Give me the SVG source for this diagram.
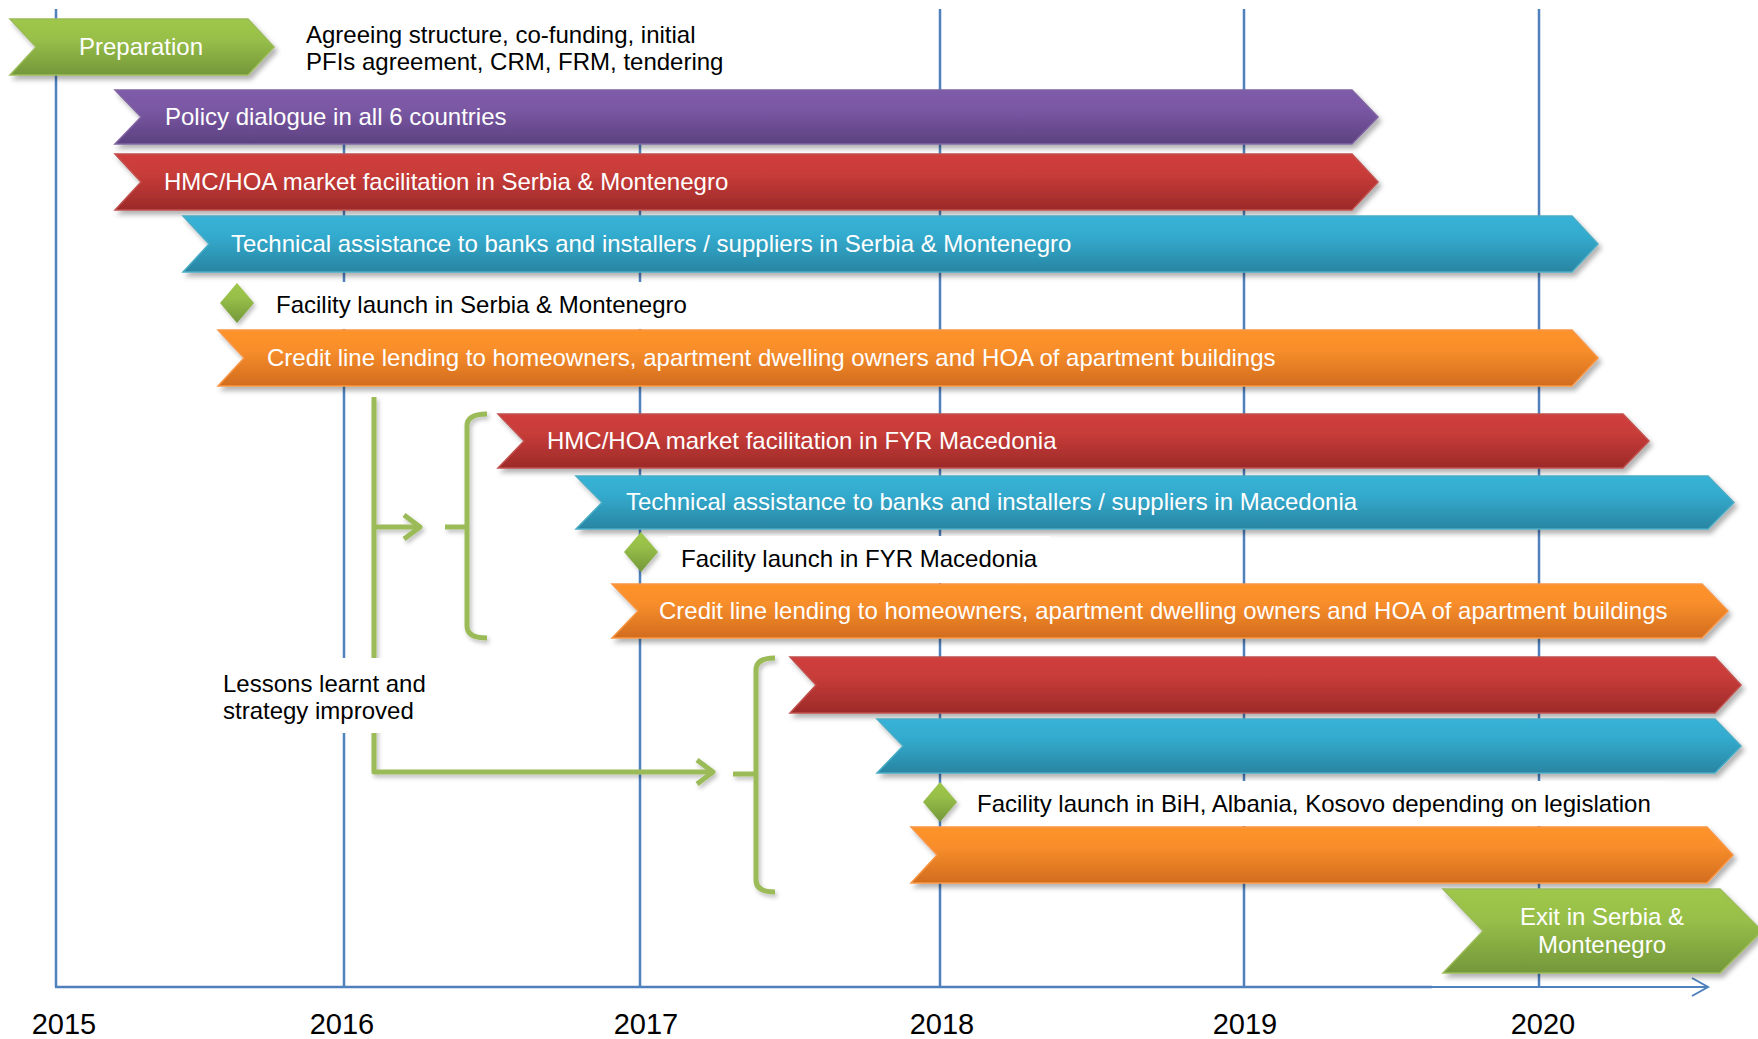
<svg xmlns="http://www.w3.org/2000/svg" width="1758" height="1039" viewBox="0 0 1758 1039">
<style>
  .grid { stroke: #4F81BD; stroke-width: 2.5; fill: none; }
  .wt { font-family: "Liberation Sans", Arial, sans-serif; font-size: 24px; fill: #ffffff; }
  .bt { font-family: "Liberation Sans", Arial, sans-serif; font-size: 24px; fill: #000000; }
  .yr { font-family: "Liberation Sans", Arial, sans-serif; font-size: 29px; fill: #000000; text-anchor: middle; }
  .gl { stroke: #9BBB59; stroke-width: 5; fill: none; stroke-linecap: butt; stroke-linejoin: round; }
  .bg { fill: #ffffff; }
  .purple { fill: url(#gPurple); stroke: #8064A2; stroke-width: 1.5; filter: url(#sh); }
  .red { fill: url(#gRed); stroke: #C0504D; stroke-width: 1.5; filter: url(#sh); }
  .blue { fill: url(#gBlue); stroke: #4BACC6; stroke-width: 1.5; filter: url(#sh); }
  .orange { fill: url(#gOrange); stroke: #F79646; stroke-width: 1.5; filter: url(#sh); }
  .green { fill: url(#gGreen); stroke: #9BBB59; stroke-width: 1.5; filter: url(#sh); }
</style>
<defs>
  <linearGradient id="gPurple" x1="0" y1="0" x2="0" y2="1"><stop offset="0" stop-color="#7F5BAA"/><stop offset="0.35" stop-color="#7A58A4"/><stop offset="1" stop-color="#5C4180"/></linearGradient>
  <linearGradient id="gRed" x1="0" y1="0" x2="0" y2="1"><stop offset="0" stop-color="#D03F3C"/><stop offset="0.35" stop-color="#C83C39"/><stop offset="1" stop-color="#9C2A28"/></linearGradient>
  <linearGradient id="gBlue" x1="0" y1="0" x2="0" y2="1"><stop offset="0" stop-color="#37B3D7"/><stop offset="0.35" stop-color="#33ABCE"/><stop offset="1" stop-color="#2985A2"/></linearGradient>
  <linearGradient id="gOrange" x1="0" y1="0" x2="0" y2="1"><stop offset="0" stop-color="#FF932C"/><stop offset="0.35" stop-color="#F88E2B"/><stop offset="1" stop-color="#D26C1E"/></linearGradient>
  <linearGradient id="gGreen" x1="0" y1="0" x2="0" y2="1"><stop offset="0" stop-color="#9EC74B"/><stop offset="0.35" stop-color="#98C049"/><stop offset="1" stop-color="#74973A"/></linearGradient>
  <filter id="sh" x="-5%" y="-20%" width="110%" height="150%"><feDropShadow dx="3" dy="4" stdDeviation="2.5" flood-color="#000" flood-opacity="0.3"/></filter>
  <filter id="shs" x="-20%" y="-20%" width="140%" height="140%"><feDropShadow dx="2" dy="3" stdDeviation="2" flood-color="#000" flood-opacity="0.25"/></filter>
</defs>
<rect x="0" y="0" width="1758" height="1039" fill="#ffffff"/>

<g id="axis">
  <line class="grid" x1="56" y1="9" x2="56" y2="987"/>
  <line class="grid" x1="344" y1="144" x2="344" y2="987"/>
  <line class="grid" x1="640" y1="144" x2="640" y2="987"/>
  <line class="grid" x1="940" y1="9" x2="940" y2="987"/>
  <line class="grid" x1="1244" y1="9" x2="1244" y2="987"/>
  <line class="grid" x1="1539" y1="9" x2="1539" y2="987"/>
  <line class="grid" x1="55" y1="987" x2="1432" y2="987"/>
  <line x1="1432" y1="987" x2="1708" y2="987" stroke="#4F81BD" stroke-width="2"/>
  <path d="M1692 978 L1708 987 L1692 996" stroke="#4F81BD" stroke-width="2" fill="none"/>
  <text class="yr" x="64" y="1034">2015</text>
  <text class="yr" x="342" y="1034">2016</text>
  <text class="yr" x="646" y="1034">2017</text>
  <text class="yr" x="942" y="1034">2018</text>
  <text class="yr" x="1245" y="1034">2019</text>
  <text class="yr" x="1543" y="1034">2020</text>
</g>

<g id="preparation">
  <path class="green" d="M10 19 L248 19 L274 47 L248 75 L10 75 L36 47 Z"/>
  <text class="wt" x="141" y="54.5" text-anchor="middle">Preparation</text>
</g>
<g id="preparation-note">
  <text class="bt" x="306" y="43">Agreeing structure, co-funding, initial</text>
  <text class="bt" x="306" y="70">PFIs agreement, CRM, FRM, tendering</text>
</g>

<g id="policy-dialogue">
  <path class="purple" d="M115 90 L1352 90 L1378 117 L1352 144 L115 144 L141 117 Z"/>
  <text class="wt" x="165" y="124.5">Policy dialogue in all 6 countries</text>
</g>
<g id="hmc-serbia">
  <path class="red" d="M115 154 L1352 154 L1378 182 L1352 210 L115 210 L141 182 Z"/>
  <text class="wt" x="164" y="189.5">HMC/HOA market facilitation in Serbia &amp; Montenegro</text>
</g>
<g id="ta-serbia">
  <path class="blue" d="M183 216 L1572 216 L1598 244 L1572 272 L183 272 L209 244 Z"/>
  <text class="wt" x="231" y="251.5">Technical assistance to banks and installers / suppliers in Serbia &amp; Montenegro</text>
</g>
<g id="launch-serbia">
  <rect class="bg" x="262" y="282" width="438" height="47"/>
  <path d="M237 283 L254 303 L237 323 L220 303 Z" fill="url(#gGreen)" filter="url(#shs)"/>
  <text class="bt" x="276" y="313">Facility launch in Serbia &amp; Montenegro</text>
</g>
<g id="credit-serbia">
  <path class="orange" d="M218 330 L1572 330 L1598 358 L1572 386 L218 386 L244 358 Z"/>
  <text class="wt" x="267" y="365.5">Credit line lending to homeowners, apartment dwelling owners and HOA of apartment buildings</text>
</g>

<g id="hmc-fyr">
  <path class="red" d="M498 414 L1623 414 L1649 441 L1623 468 L498 468 L524 441 Z"/>
  <text class="wt" x="547" y="448.5">HMC/HOA market facilitation in FYR Macedonia</text>
</g>
<g id="ta-macedonia">
  <path class="blue" d="M576 476 L1708 476 L1734 502.5 L1708 529 L576 529 L602 502.5 Z"/>
  <text class="wt" x="626" y="510">Technical assistance to banks and installers / suppliers in Macedonia</text>
</g>
<g id="launch-fyr">
  <rect class="bg" x="668" y="536" width="382" height="47"/>
  <path d="M641 532 L658 552 L641 572 L624 552 Z" fill="url(#gGreen)" filter="url(#shs)"/>
  <text class="bt" x="681" y="567">Facility launch in FYR Macedonia</text>
</g>
<g id="credit-fyr">
  <path class="orange" d="M612 584 L1702 584 L1728 611 L1702 638 L612 638 L638 611 Z"/>
  <text class="wt" x="659" y="618.5">Credit line lending to homeowners, apartment dwelling owners and HOA of apartment buildings</text>
</g>

<g id="hmc-others">
  <path class="red" d="M790 657 L1715 657 L1741 685 L1715 713 L790 713 L816 685 Z"/>
</g>
<g id="ta-others">
  <path class="blue" d="M877 719 L1715 719 L1741 746 L1715 773 L877 773 L903 746 Z"/>
</g>
<g id="launch-others">
  <rect class="bg" x="965" y="781" width="700" height="45"/>
  <path d="M940 782 L957 802 L940 822 L923 802 Z" fill="url(#gGreen)" filter="url(#shs)"/>
  <text class="bt" x="977" y="812">Facility launch in BiH, Albania, Kosovo depending on legislation</text>
</g>
<g id="credit-others">
  <path class="orange" d="M911 827 L1707 827 L1733 855 L1707 883 L911 883 L937 855 Z"/>
</g>

<g id="exit">
  <path class="green" d="M1443 889 L1720 889 L1762 931 L1720 973 L1443 973 L1483 931 Z"/>
  <text class="wt" x="1602" y="925" text-anchor="middle">Exit in Serbia &amp;</text>
  <text class="wt" x="1602" y="953" text-anchor="middle">Montenegro</text>
</g>

<g id="connectors" filter="url(#shs)">
  <path class="gl" d="M374 397 L374 772 L713 772"/>
  <path class="gl" d="M697 760 L713 772 L697 784"/>
  <path class="gl" d="M374 527 L420 527"/>
  <path class="gl" d="M404 515 L420 527 L404 539"/>
  <path class="gl" d="M487 414 Q467 414 467 426 L467 626 Q467 638 487 638"/>
  <path class="gl" d="M445 527 L467 527"/>
  <path class="gl" d="M775 658 Q756 658 756 670 L756 880 Q756 892 775 892"/>
  <path class="gl" d="M733 774 L756 774"/>
</g>

<g id="lessons">
  <rect class="bg" x="215" y="658" width="215" height="75"/>
  <text class="bt" x="223" y="692">Lessons learnt and</text>
  <text class="bt" x="223" y="719">strategy improved</text>
</g>
</svg>
